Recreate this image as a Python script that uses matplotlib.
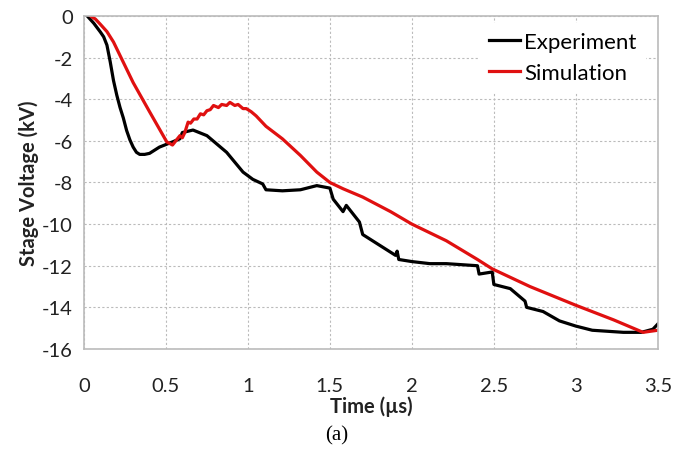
import numpy as np
import matplotlib
matplotlib.use("Agg")
import matplotlib.pyplot as plt

# values
t_exp = [0.02, 0.06, 0.10, 0.12, 0.14, 0.16, 0.18, 0.20, 0.22, 0.24, 0.26, 0.28,
         0.30, 0.32, 0.34, 0.37, 0.40, 0.46, 0.54, 0.585, 0.60,
         0.665, 0.75, 0.87, 0.97, 1.03, 1.09, 1.11, 1.21, 1.32, 1.42, 1.50, 1.52,
         1.58, 1.60, 1.68, 1.70, 1.80, 1.90, 1.91, 1.92, 2.00, 2.11, 2.21, 2.40,
         2.41, 2.49, 2.50, 2.60, 2.69, 2.70, 2.80, 2.90, 3.00, 3.10, 3.29, 3.40,
         3.47, 3.50]
v_exp = [0.0, -0.35, -0.77, -1.0, -1.4, -2.2, -3.1, -3.8, -4.4, -4.9, -5.5, -5.95,
         -6.3, -6.55, -6.65, -6.65, -6.6, -6.3, -6.05, -5.9, -5.6,
         -5.48, -5.75, -6.55, -7.5, -7.85, -8.07, -8.35, -8.4, -8.35, -8.15, -8.27, -8.8,
         -9.4, -9.1, -9.9, -10.5, -11.0, -11.5, -11.3, -11.7, -11.8, -11.9, -11.9, -12.0,
         -12.4, -12.3, -12.9, -13.1, -13.7, -14.0, -14.2, -14.65, -14.9, -15.1, -15.2, -15.2,
         -15.05, -14.8]

t_sim = [0.04, 0.07, 0.10, 0.14, 0.18, 0.30, 0.40, 0.505, 0.54, 0.57, 0.585, 0.60,
         0.615, 0.635, 0.65, 0.67, 0.69, 0.71, 0.73, 0.75, 0.77, 0.79, 0.82, 0.84,
         0.87, 0.89, 0.92, 0.94, 0.97, 0.99, 1.02, 1.05, 1.11, 1.21,
         1.32, 1.42, 1.50, 1.58, 1.70, 1.87, 2.00, 2.21, 2.40, 2.49, 2.72, 3.00,
         3.23, 3.41, 3.50]
v_sim = [0.0, -0.15, -0.4, -0.75, -1.25, -3.2, -4.6, -6.05, -6.2, -5.9, -5.75, -5.85,
         -5.6, -5.1, -5.15, -4.95, -4.95, -4.7, -4.75, -4.55, -4.5, -4.3, -4.4, -4.25,
         -4.3, -4.15, -4.3, -4.25, -4.45, -4.45, -4.6, -4.8, -5.3, -5.9,
         -6.7, -7.5, -8.0, -8.3, -8.7, -9.4, -10.0, -10.8, -11.7, -12.15, -13.0, -13.9,
         -14.6, -15.2, -15.1]

xticks = [0, 0.5, 1, 1.5, 2, 2.5, 3, 3.5]
xticklabels = ["0", "0.5", "1", "1.5", "2", "2.5", "3", "3.5"]
yticks = list(range(-16, 1, 2))

plt.rcParams['font.family'] = ['Lato', 'DejaVu Sans']
plt.rcParams['axes.unicode_minus'] = False

fig = plt.figure(figsize=(6.74, 4.52), dpi=100)
ax = fig.add_axes([0.1246, 0.2257, 0.8514, 0.7367])

ax.plot(t_exp, v_exp, color="black", lw=2.3, label="Experiment")
ax.plot(t_sim, v_sim, color="#e01010", lw=2.3, label="Simulation")

ax.set_xlim(0, 3.5)
ax.set_ylim(-16, 0)
ax.set_xticks(xticks)
ax.set_xticklabels(xticklabels)
ax.set_yticks(yticks)
ax.tick_params(length=0, labelsize=14.5, colors="#222222")
ax.tick_params(axis="x", pad=20)
ax.tick_params(axis="y", pad=8)
ax.grid(True, color="#bbbbbb", ls=(0, (2, 2)), lw=0.8)
for s in ax.spines.values():
    s.set_color("#bbbbbb")
    s.set_linewidth(1.2)

ax.set_xlabel("Time (µs)", fontsize=14.5, fontweight="bold", labelpad=1, color="#222222")
ax.set_ylabel("Stage Voltage (kV)", fontsize=14.5, fontweight="bold", labelpad=2, color="#222222")

leg = ax.legend(loc="upper right", bbox_to_anchor=(0.99, 1.0), frameon=True, fontsize=16,
                handlelength=1.4, handletextpad=0.2, borderaxespad=0.3, labelspacing=0.5)
leg.get_frame().set_edgecolor("white")
leg.get_frame().set_facecolor("white")
leg.get_frame().set_alpha(1)

fig.text(0.5, 0.035, "(a)", ha="center", va="center", fontsize=15,
         family="Liberation Serif")

fig.savefig("out.png", dpi=100)
